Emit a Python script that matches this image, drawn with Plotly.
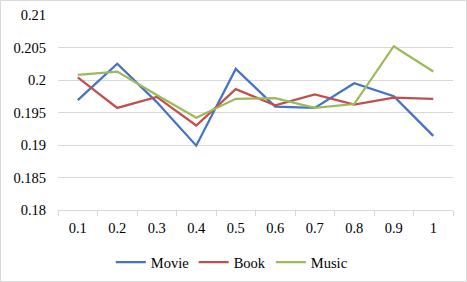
import plotly.graph_objects as go

categories = ["0.1", "0.2", "0.3", "0.4", "0.5", "0.6", "0.7", "0.8", "0.9", "1"]
movie = [0.1969, 0.2025, 0.1966, 0.1899, 0.2017, 0.1959, 0.1957, 0.1995, 0.1975, 0.1914]
book = [0.2004, 0.1957, 0.1974, 0.1930, 0.1986, 0.1961, 0.1978, 0.1962, 0.1973, 0.1971]
music = [0.2008, 0.2013, 0.1977, 0.1942, 0.1971, 0.1972, 0.1957, 0.1963, 0.2052, 0.2013]
y_tickvals = [0.18, 0.185, 0.19, 0.195, 0.2, 0.205, 0.21]
y_ticktext = ["0.18", "0.185", "0.19", "0.195", "0.2", "0.205", "0.21"]

series = [("Movie", movie, "#4472C4"), ("Book", book, "#C0504D"), ("Music", music, "#9BBB59")]

fig = go.Figure()
for name, vals, color in series:
    fig.add_trace(go.Scatter(x=categories, y=vals, name=name, mode="lines",
                             line=dict(color=color, width=2.25)))

W, H = 467, 282
L, R, T, B = 58, 14, 15, 72
pw, ph = W - L - R, H - T - B
FONT = "Liberation Serif, Times New Roman, serif"

fig.update_layout(
    width=W, height=H,
    margin=dict(l=L, r=R, t=T, b=B, autoexpand=False),
    paper_bgcolor="white", plot_bgcolor="white",
    font=dict(family=FONT, size=14.5, color="#000000"),
    showlegend=True,
    legend=dict(orientation="h", x=0.44, xanchor="center", y=-0.185, yanchor="top",
                font=dict(family=FONT, size=14.5), itemwidth=30, tracegroupgap=0),
    xaxis=dict(type="category", range=[-0.5, 9.5], showgrid=False, showline=True,
               linecolor="#D9D9D9", linewidth=1,
               ticks="outside", tickson="boundaries", ticklen=5, tickcolor="#D9D9D9",
               ticklabelstandoff=5, zeroline=False, fixedrange=True,
               tickfont=dict(family=FONT, size=14.5)),
    yaxis=dict(range=[0.18, 0.21], tickvals=y_tickvals, ticktext=y_ticktext,
               showgrid=True, gridcolor="#D9D9D9", gridwidth=1, showline=False,
               zeroline=False, ticks="", ticklabelstandoff=11, fixedrange=True,
               tickfont=dict(family=FONT, size=14.5)),
    shapes=[dict(type="rect", xref="paper", yref="paper",
                 x0=-(L - 0.5) / pw, x1=(W - L - 0.5) / pw,
                 y0=-(B - 0.5) / ph, y1=(ph + T - 0.5) / ph,
                 line=dict(color="#D9D9D9", width=1), layer="below")],
)

fig.write_html("out.html", config={"displayModeBar": False},
               post_script="document.body.style.margin='0';document.body.style.padding='0';")
